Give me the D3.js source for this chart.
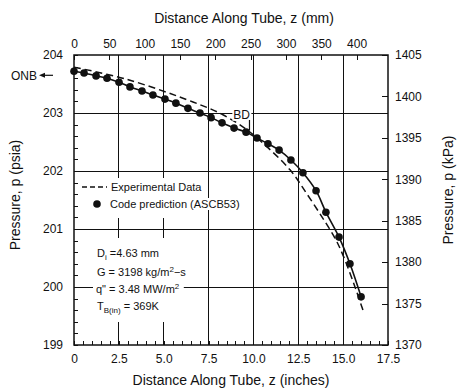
<!DOCTYPE html>
<html lang="en">
<head>
<meta charset="UTF-8">
<title>Pressure along tube</title>
<script src="https://d3js.org/d3.v7.min.js"></script>
<style>
  body { margin: 0; background: #fff; }
  text { font-family: "Liberation Sans", Arial, sans-serif; fill: #111; }
  .axis text { font-size: 12px; }
  .axis path.domain { display: none; }
  .axis line, .grid line { stroke: #111; stroke-width: 1; shape-rendering: crispEdges; }
  .frame { fill: none; stroke: #111; stroke-width: 1.5; }
  .code { fill: none; stroke: #111; stroke-width: 1.6; }
  .exp { fill: none; stroke: #111; stroke-width: 1.5; stroke-dasharray: 7,4; }
  .note { font-size: 11px; }
</style>
</head>
<body>
<svg width="462" height="390"></svg>
<script>
// code prediction (ASCB53): z in inches, p in psia
var codeZ = [0.0, 0.56, 1.23, 1.84, 2.51, 3.12, 3.79, 4.40, 5.07, 5.68, 6.35, 7.02, 7.64,
             8.25, 8.92, 9.59, 10.20, 10.81, 11.43, 12.09, 12.76, 13.49, 14.04, 14.77, 15.38, 16.00];
var codeP = [203.72, 203.69, 203.64, 203.60, 203.53, 203.45, 203.38, 203.31, 203.24, 203.17, 203.08, 203.00, 202.92,
             202.83, 202.74, 202.67, 202.57, 202.47, 202.36, 202.19, 201.97, 201.66, 201.29, 200.86, 200.40, 199.83];
// experimental data (dashed)
var expZ = [0.0, 2.95, 6.63, 8.30, 9.64, 10.53, 12.04, 12.99, 13.88, 14.55, 14.99, 15.66, 16.16];
var expP = [203.79, 203.58, 203.19, 202.97, 202.71, 202.48, 202.02, 201.60, 201.18, 200.84, 200.55, 200.00, 199.55];

var inchLabels = [0, 2.5, 5.0, 7.5, 10.0, 12.5, 15.0, 17.5];
var inchGrid = [2.5, 5.0, 7.5, 10.0, 12.5, 15.0];
var mmTicks = [0, 50, 100, 150, 200, 250, 300, 350, 400];
var psiaTicks = [199, 200, 201, 202, 203, 204];
var psiaGrid = [200, 201, 202, 203];
var kpaTicks = [1370, 1375, 1380, 1385, 1390, 1395, 1400, 1405];

var svg = d3.select("svg"),
    plotL = 74, plotR = 388, plotT = 55, plotB = 345;

var x = d3.scaleLinear().domain([0, 17.5]).range([plotL, plotR]),
    xmm = d3.scaleLinear().domain([0, 17.5 * 25.4]).range([plotL, plotR]),
    y = d3.scaleLinear().domain([199, 204]).range([plotB, plotT]),
    yk = d3.scaleLinear().domain([1370, 1405]).range([plotB, plotT]);

// grid
var grid = svg.append("g").attr("class", "grid");
grid.selectAll(".h").data(psiaGrid).enter().append("line")
    .attr("x1", plotL).attr("x2", plotR)
    .attr("y1", function(d) { return y(d); }).attr("y2", function(d) { return y(d); });
grid.selectAll(".v").data(inchGrid).enter().append("line")
    .attr("y1", plotT).attr("y2", plotB)
    .attr("x1", function(d) { return x(d); }).attr("x2", function(d) { return x(d); });

// axes
svg.append("g").attr("class", "axis")
    .attr("transform", "translate(0," + plotB + ")")
    .call(d3.axisBottom(x).tickValues(x.ticks(35)).tickSize(-4).tickSizeOuter(0).tickFormat(""));
svg.append("g").attr("class", "axis")
    .attr("transform", "translate(0," + plotB + ")")
    .call(d3.axisBottom(x).tickValues(inchLabels).tickSize(0).tickPadding(9)
      .tickFormat(function(d) { return d === 0 ? "0" : d.toFixed(1); }));
svg.append("g").attr("class", "axis")
    .attr("transform", "translate(0," + plotT + ")")
    .call(d3.axisTop(xmm).tickValues(mmTicks).tickSize(-5).tickSizeOuter(0).tickPadding(7)
      .tickFormat(d3.format("d")));
svg.append("g").attr("class", "axis")
    .attr("transform", "translate(" + plotL + ",0)")
    .call(d3.axisLeft(y).tickValues(y.ticks(25)).tickSize(-4).tickSizeOuter(0).tickFormat(""));
svg.append("g").attr("class", "axis")
    .attr("transform", "translate(" + plotL + ",0)")
    .call(d3.axisLeft(y).tickValues(psiaTicks).tickSize(0).tickPadding(11).tickFormat(d3.format("d")));
svg.append("g").attr("class", "axis")
    .attr("transform", "translate(" + plotR + ",0)")
    .call(d3.axisRight(yk).tickValues(kpaTicks).tickSize(-6).tickSizeOuter(0).tickPadding(7)
      .tickFormat(d3.format("d")));

svg.append("rect").attr("class", "frame")
    .attr("x", plotL).attr("y", plotT).attr("width", plotR - plotL).attr("height", plotB - plotT);

// axis titles
svg.append("text").attr("x", 244).attr("y", 23).attr("text-anchor", "middle")
    .style("font-size", "14px").text("Distance Along Tube, z (mm)");
svg.append("text").attr("x", 231).attr("y", 385).attr("text-anchor", "middle")
    .style("font-size", "14px").text("Distance Along Tube, z (inches)");
svg.append("text").attr("transform", "translate(20,195) rotate(-90)").attr("text-anchor", "middle")
    .style("font-size", "14px").text("Pressure, p (psia)");
svg.append("text").attr("transform", "translate(453,190) rotate(-90)").attr("text-anchor", "middle")
    .style("font-size", "14px").text("Pressure, p (kPa)");

// legend
var legend = svg.append("g");
legend.append("rect").attr("x", 79).attr("y", 178).attr("width", 128).attr("height", 40).attr("fill", "#fff");
legend.append("line").attr("class", "exp").attr("x1", 82).attr("x2", 107).attr("y1", 187).attr("y2", 187)
    .style("stroke-dasharray", "5,3");
legend.append("text").attr("class", "note").attr("x", 111).attr("y", 191).text("Experimental Data");
var codeLabel = legend.append("text").attr("class", "note").attr("x", 110).attr("y", 208).text("Code prediction (ASCB53)");
var bb = codeLabel.node().getBBox();
legend.insert("rect", "text").attr("x", bb.x - 1).attr("y", bb.y).attr("width", bb.width + 2).attr("height", bb.height)
    .attr("fill", "#fff");
legend.append("circle").attr("cx", 97).attr("cy", 204).attr("r", 3.8).attr("fill", "#111");

// parameter box
var box = svg.append("g");
box.append("rect").attr("x", 79).attr("y", 238).attr("width", 118).attr("height", 84).attr("fill", "#fff");
box.append("line").attr("x1", plotL).attr("x2", plotR)
    .attr("y1", y(200)).attr("y2", y(200)).attr("stroke", "#111").style("shape-rendering", "crispEdges");
var t1 = box.append("text").attr("class", "note").attr("x", 97).attr("y", 257);
t1.append("tspan").text("D");
t1.append("tspan").attr("dy", 3).style("font-size", "8px").text("i");
t1.append("tspan").attr("dy", -3).text(" =4.63 mm");
var t2 = box.append("text").attr("class", "note").attr("x", 97).attr("y", 276);
t2.append("tspan").text("G = 3198 kg/m");
t2.append("tspan").attr("dy", -4).style("font-size", "8px").text("2");
t2.append("tspan").attr("dy", 4).text("\u2212s");
var qbox = box.append("rect").attr("fill", "#fff");
var t3 = box.append("text").attr("class", "note").attr("x", 96).attr("y", 293);
t3.append("tspan").text("q\" = 3.48 MW/m");
t3.append("tspan").attr("dy", -4).style("font-size", "8px").text("2");
var qb = t3.node().getBBox();
qbox.attr("x", qb.x - 3).attr("y", qb.y).attr("width", qb.width + 7).attr("height", qb.height);
var t4 = box.append("text").attr("class", "note").attr("x", 97).attr("y", 310);
t4.append("tspan").text("T");
t4.append("tspan").attr("dy", 3).style("font-size", "8px").text("B(in)");
t4.append("tspan").attr("dy", -3).text(" = 369K");

// curves
var code = codeZ.map(function(z, i) { return {z: z, p: codeP[i]}; });
var exp = expZ.map(function(z, i) { return {z: z, p: expP[i]}; });
var line = d3.line().curve(d3.curveCatmullRom)
    .x(function(d) { return x(d.z); })
    .y(function(d) { return y(d.p); });

svg.append("path").datum(exp).attr("class", "exp").attr("d", line);
svg.append("path").datum(code).attr("class", "code").attr("d", line);
svg.selectAll(".dot").data(code).enter().append("circle")
    .attr("class", "dot")
    .attr("cx", function(d) { return x(d.z); })
    .attr("cy", function(d) { return y(d.p); })
    .attr("r", 3.8).attr("fill", "#111");

// BD marker
var bd = svg.append("g");
var bdText = bd.append("text").attr("x", x(9.81)).attr("y", y(202.9)).attr("text-anchor", "end")
    .style("font-size", "12px").text("BD");
var bdb = bdText.node().getBBox();
bd.insert("rect", "text").attr("x", bdb.x - 1).attr("y", bdb.y + 1).attr("width", bdb.width + 2)
    .attr("height", bdb.height - 2).attr("fill", "#fff");
bd.append("line").attr("x1", x(9.78)).attr("x2", x(9.78)).attr("y1", y(202.88)).attr("y2", y(202.7))
    .attr("stroke", "#111").attr("stroke-width", 1.2);

// ONB marker
svg.append("text").attr("x", 37).attr("y", y(203.65)).attr("dy", "0.35em").attr("text-anchor", "end")
    .style("font-size", "12px").text("ONB");
svg.append("line").attr("x1", 53).attr("x2", 44).attr("y1", y(203.65)).attr("y2", y(203.65))
    .attr("stroke", "#111").attr("stroke-width", 1.2);
svg.append("path")
    .attr("d", "M" + 39 + "," + y(203.65) + "l6,-2.5v5z")
    .attr("fill", "#111");
</script>
</body>
</html>
